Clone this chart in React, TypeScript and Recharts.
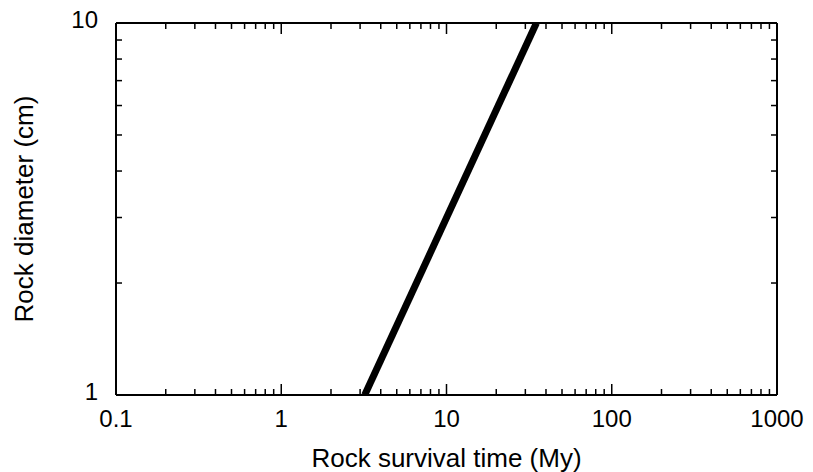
import { LineChart, Line, XAxis, YAxis, Label } from 'recharts';

// survival time (My) vs. rock diameter (cm), straight on log-log axes
const survivalTimes = [3.2, 35];
const rockDiameters = [1, 10];

const timeDecades = [0.1, 1, 10, 100, 1000];
const timeLabels = ['0.1', '1', '10', '100', '1000'];
const diameterDecades = [1, 10];
const diameterLabels = ['1', '10'];
const minorSteps = [2, 3, 4, 5, 6, 7, 8, 9];

const data = survivalTimes.map((t, i) => ({ time: t, diameter: rockDiameters[i] }));

const withMinor = (decades: number[]) => {
  const out: number[] = [];
  decades.forEach((d, i) => {
    out.push(d);
    if (i < decades.length - 1) minorSteps.forEach((m) => out.push(m * d));
  });
  return out;
};

const timeTicks = withMinor(timeDecades);
const diameterTicks = withMinor(diameterDecades);

const FONT = '"Liberation Sans", Arial, Helvetica, sans-serif';
const MAJOR = 11;
const MINOR = 6;

const labelFor = (v: number, decades: number[], labels: string[]) => {
  const i = decades.findIndex((d) => Math.abs(d - v) < d * 1e-6);
  return i >= 0 ? labels[i] : null;
};

// all tick marks point into the plot box
const BottomTick = ({ x, y, payload }: any) => {
  const label = labelFor(payload.value, timeDecades, timeLabels);
  const len = label ? MAJOR : MINOR;
  return (
    <g>
      <line x1={x} y1={y} x2={x} y2={y - len} stroke="#000" strokeWidth={1.5} />
      {label && (
        <text x={x} y={y + 32} textAnchor="middle" fontFamily={FONT} fontSize={24} fill="#000">
          {label}
        </text>
      )}
    </g>
  );
};

const TopTick = ({ x, y, payload }: any) => {
  const len = labelFor(payload.value, timeDecades, timeLabels) ? MAJOR : MINOR;
  return <line x1={x} y1={y} x2={x} y2={y + len} stroke="#000" strokeWidth={1.5} />;
};

const LeftTick = ({ x, y, payload }: any) => {
  const label = labelFor(payload.value, diameterDecades, diameterLabels);
  const len = label ? MAJOR : MINOR;
  return (
    <g>
      <line x1={x} y1={y} x2={x + len} y2={y} stroke="#000" strokeWidth={1.5} />
      {label && (
        <text x={x - 18} y={y + 5} textAnchor="end" fontFamily={FONT} fontSize={24} fill="#000">
          {label}
        </text>
      )}
    </g>
  );
};

const RightTick = ({ x, y, payload }: any) => {
  const len = labelFor(payload.value, diameterDecades, diameterLabels) ? MAJOR : MINOR;
  return <line x1={x} y1={y} x2={x - len} y2={y} stroke="#000" strokeWidth={1.5} />;
};

const XTitle = ({ viewBox }: any) => (
  <text
    x={viewBox.x + viewBox.width / 2}
    y={viewBox.y + 72}
    textAnchor="middle"
    fontFamily={FONT}
    fontSize={26}
    fill="#000"
  >
    Rock survival time (My)
  </text>
);

const YTitle = ({ viewBox }: any) => {
  const cx = viewBox.x + 33;
  const cy = viewBox.y + viewBox.height / 2;
  return (
    <text
      x={cx}
      y={cy}
      transform={`rotate(-90, ${cx}, ${cy})`}
      textAnchor="middle"
      fontFamily={FONT}
      fontSize={26}
      fill="#000"
    >
      Rock diameter (cm)
    </text>
  );
};

const axisLine = { stroke: '#000', strokeWidth: 2 };

export default function App() {
  return (
    <div style={{ position: 'absolute', left: 0, top: 0, background: '#fff' }}>
      <LineChart width={813} height={472} data={data} margin={{ top: 22, right: 35, bottom: 0, left: 0 }}>
        <XAxis
          xAxisId="b"
          type="number"
          dataKey="time"
          scale="log"
          domain={[0.1, 1000]}
          allowDataOverflow
          ticks={timeTicks}
          interval={0}
          tickLine={false}
          tickSize={0}
          tickMargin={0}
          height={77}
          axisLine={axisLine}
          tick={BottomTick}
        >
          <Label content={XTitle} />
        </XAxis>
        {/* top and right axes only close the frame and carry inward ticks */}
        <XAxis
          xAxisId="t"
          orientation="top"
          type="number"
          dataKey="time"
          scale="log"
          domain={[0.1, 1000]}
          allowDataOverflow
          ticks={timeTicks}
          interval={0}
          tickLine={false}
          tickSize={0}
          tickMargin={0}
          height={1}
          axisLine={axisLine}
          tick={TopTick}
        />
        <YAxis
          yAxisId="l"
          type="number"
          scale="log"
          domain={[1, 10]}
          allowDataOverflow
          ticks={diameterTicks}
          interval={0}
          tickLine={false}
          tickSize={0}
          tickMargin={0}
          width={116}
          axisLine={axisLine}
          tick={LeftTick}
        >
          <Label content={YTitle} />
        </YAxis>
        <YAxis
          yAxisId="r"
          orientation="right"
          type="number"
          scale="log"
          domain={[1, 10]}
          allowDataOverflow
          ticks={diameterTicks}
          interval={0}
          tickLine={false}
          tickSize={0}
          tickMargin={0}
          width={1}
          axisLine={axisLine}
          tick={RightTick}
        />
        <Line
          xAxisId="t"
          yAxisId="r"
          type="linear"
          dataKey="diameter"
          stroke="none"
          strokeWidth={0}
          dot={false}
          activeDot={false}
          isAnimationActive={false}
        />
        <Line
          xAxisId="b"
          yAxisId="l"
          type="linear"
          dataKey="diameter"
          stroke="#000"
          strokeWidth={7}
          dot={false}
          isAnimationActive={false}
        />
      </LineChart>
    </div>
  );
}
